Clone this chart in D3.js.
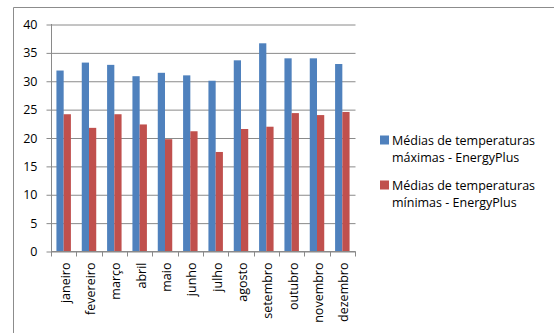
<!DOCTYPE html>
<html>
<head>
<meta charset="utf-8">
<script src="https://cdn.jsdelivr.net/npm/d3@7"></script>
<style>
  html, body { margin: 0; padding: 0; background: #fff; }
  svg { display: block; font-family: "Open Sans", sans-serif; }
</style>
</head>
<body>
<svg id="chart" width="554" height="333"></svg>
<script>
// Monthly mean temperatures (°C) from the EnergyPlus weather data
const months = ["janeiro", "fevereiro", "março", "abril", "maio", "junho",
                "julho", "agosto", "setembro", "outubro", "novembro", "dezembro"];
const maxTemps = [31.8, 33.2, 32.8, 30.8, 31.4, 30.95, 30.0, 33.6, 36.6, 33.95, 33.95, 32.95];
const minTemps = [24.1, 21.7, 24.1, 22.3, 19.7, 21.1, 17.45, 21.5, 21.9, 24.3, 23.95, 24.5];
const seriesNames = ["Médias de temperaturas máximas - EnergyPlus",
                     "Médias de temperaturas mínimas - EnergyPlus"];
const yTicks = [0, 5, 10, 15, 20, 25, 30, 35, 40];

const colors = ["#4F81BD", "#C0504D"];
const gridColor = "#8a8a8a";

const svg = d3.select("#chart");

// chart frame
svg.append("path")
  .attr("d", "M13.5,340V7.5H560")
  .attr("fill", "none")
  .attr("stroke", "#8c8c8c")
  .attr("stroke-width", 1);

const plot = { left: 51, right: 355, top: 24, bottom: 251 };

const x = d3.scaleBand()
  .domain(months)
  .range([plot.left, plot.right])
  .paddingInner(0)
  .paddingOuter(0);

const y = d3.scaleLinear()
  .domain([0, 40])
  .range([plot.bottom, plot.top]);

// gridlines + left ticks
const gY = svg.append("g")
  .attr("transform", `translate(${plot.left + 0.5},0.5)`)
  .call(d3.axisLeft(y).tickValues(yTicks).tickSize(5).tickSizeInner(5).tickPadding(9)
        .tickFormat(d3.format("d")));
gY.select(".domain").remove();
gY.selectAll(".tick line").attr("stroke", gridColor);
gY.selectAll(".tick").append("line")
  .attr("x1", 0).attr("x2", plot.right - plot.left)
  .attr("stroke", gridColor);
gY.selectAll(".tick text")
  .attr("fill", "#000")
  .style("font-size", "12.5px")
  .style("font-family", "\"Open Sans\", sans-serif");

// bars
const sub = d3.scaleBand()
  .domain([0, 1])
  .range([0, x.bandwidth()])
  .paddingOuter(0.75)
  .paddingInner(0);

const series = [maxTemps, minTemps];
series.forEach((vals, si) => {
  svg.append("g").selectAll("rect")
    .data(vals)
    .join("rect")
    .attr("x", (d, i) => x(months[i]) + sub(si))
    .attr("y", d => y(d))
    .attr("width", sub.bandwidth())
    .attr("height", d => y(0) - y(d))
    .attr("fill", colors[si]);
});

// value axis line
svg.append("line")
  .attr("x1", plot.left + 0.5).attr("x2", plot.left + 0.5)
  .attr("y1", plot.top).attr("y2", plot.bottom)
  .attr("stroke", gridColor);

// category axis
const gX = svg.append("g")
  .attr("transform", `translate(0,${plot.bottom + 0.5})`);
gX.append("line")
  .attr("x1", plot.left).attr("x2", plot.right + 0.5)
  .attr("stroke", gridColor);
const bounds = months.map(m => x(m)).concat([plot.right]);
gX.selectAll("line.tick")
  .data(bounds)
  .join("line")
  .attr("class", "tick")
  .attr("x1", d => Math.round(d) + 0.5).attr("x2", d => Math.round(d) + 0.5)
  .attr("y1", 0).attr("y2", 5)
  .attr("stroke", gridColor);
gX.selectAll("text")
  .data(months)
  .join("text")
  .attr("transform", d => `translate(${x(d) + x.bandwidth() / 2 + 6},11) rotate(-90)`)
  .attr("text-anchor", "end")
  .attr("fill", "#000")
  .style("font-size", "12.5px")
  .text(d => d);

// legend
const legend = svg.append("g");
const legendRows = [
  { y: 140, lines: ["Médias de temperaturas", "máximas - EnergyPlus"] },
  { y: 185, lines: ["Médias de temperaturas", "mínimas - EnergyPlus"] }
];
legendRows.forEach((row, i) => {
  legend.append("rect")
    .attr("x", 380).attr("y", row.y - 4.5)
    .attr("width", 9).attr("height", 9)
    .attr("fill", colors[i]);
  const t = legend.append("text")
    .attr("x", 392)
    .attr("y", row.y + 4.5)
    .attr("fill", "#000")
    .style("font-size", "12.5px");
  row.lines.forEach((ln, k) => {
    t.append("tspan").attr("x", 392).attr("dy", k === 0 ? 0 : 17).text(ln);
  });
});
</script>
</body>
</html>
